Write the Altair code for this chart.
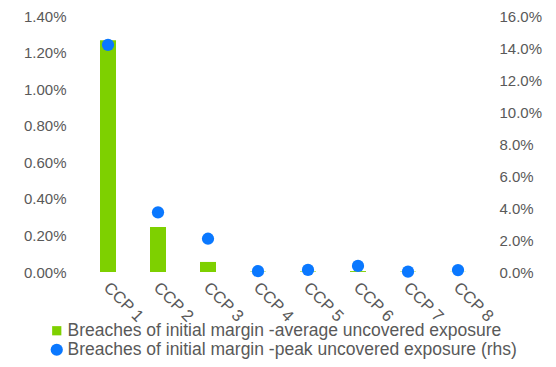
import altair as alt
import pandas as pd

categories = ["CCP 1", "CCP 2", "CCP 3", "CCP 4", "CCP 5", "CCP 6", "CCP 7", "CCP 8"]
avg_uncovered = [0.01268, 0.00246, 0.00055, 0.00002, 0.00003, 0.00005, 0.00002, 0.00001]
peak_uncovered = [0.1420, 0.0373, 0.0208, 0.0005, 0.0013, 0.0038, 0.0002, 0.0012]
series_names = [
    "Breaches of initial margin -average uncovered exposure",
    "Breaches of initial margin -peak uncovered exposure (rhs)",
]
left_ticks = [0, 0.002, 0.004, 0.006, 0.008, 0.010, 0.012, 0.014]
right_ticks = [0, 0.02, 0.04, 0.06, 0.08, 0.10, 0.12, 0.14, 0.16]

GREEN = "#7ED000"
BLUE = "#0A78FF"
GRAY = "#595959"
FONT = "Liberation Sans"

bars_df = pd.DataFrame({"cat": categories, "val": avg_uncovered, "series": series_names[0]})
pts_df = pd.DataFrame({"cat": categories, "val": peak_uncovered, "series": series_names[1]})

no_line = dict(domain=False, domainOpacity=0, domainColor="transparent",
               ticks=False, grid=False)

x_enc = alt.X(
    "cat:N",
    sort=categories,
    scale=alt.Scale(paddingInner=0, paddingOuter=0),
    axis=alt.Axis(
        title=None, labelAngle=45, labelAlign="left", labelBaseline="top",
        labelPadding=7, labelOffset=4, labelFontSize=16.5,
        labelColor=GRAY, labelFont=FONT, **no_line,
    ),
)

color_scale = alt.Scale(domain=series_names, range=[GREEN, BLUE])
shape_scale = alt.Scale(domain=series_names, range=["square", "circle"])
size_scale = alt.Scale(domain=series_names, range=[85, 150])
legend = alt.Legend(
    title=None, orient="none", legendX=-35, legendY=306, direction="vertical",
    labelFontSize=17.5, labelColor=GRAY, labelFont=FONT, labelLimit=0,
    symbolStrokeWidth=0, rowPadding=0, symbolOffset=0,
    labelOffset=2, padding=0,
)

bars = alt.Chart(bars_df).mark_bar(size=16, color=GREEN).encode(
    x=x_enc,
    y=alt.Y(
        "val:Q",
        scale=alt.Scale(domain=[0, 0.014], nice=False),
        axis=alt.Axis(
            title=None, format=".2%", values=left_ticks,
            labelFontSize=15, labelColor=GRAY, labelFont=FONT,
            labelPadding=17, **no_line,
        ),
    ),
    color=alt.Color("series:N", scale=color_scale, legend=legend),
)

points = alt.Chart(pts_df).mark_point(filled=True, opacity=1).encode(
    x=x_enc,
    y=alt.Y(
        "val:Q",
        scale=alt.Scale(domain=[0, 0.16], nice=False),
        axis=alt.Axis(
            title=None, format=".1%", values=right_ticks,
            orient="right", labelFontSize=15, labelColor=GRAY,
            labelFont=FONT, labelPadding=16, **no_line,
        ),
    ),
    color=alt.Color("series:N", scale=color_scale, legend=legend),
    shape=alt.Shape("series:N", scale=shape_scale, legend=legend),
    size=alt.Size("series:N", scale=size_scale, legend=legend),
)

chart = (
    alt.layer(bars, points)
    .resolve_scale(y="independent")
    .properties(
        width=400, height=256,
        autosize=alt.AutoSizeParams(type="none"),
        padding={"left": 75, "top": 8, "right": 65, "bottom": 87},
        view=alt.ViewBackground(stroke="transparent", strokeWidth=0),
    )
    .configure_view(stroke="transparent", strokeWidth=0)
    .configure_axis(domain=False, ticks=False, grid=False)
    .configure(background="white")
)

chart.save("out.html", embed_options={"renderer": "svg", "actions": False})
